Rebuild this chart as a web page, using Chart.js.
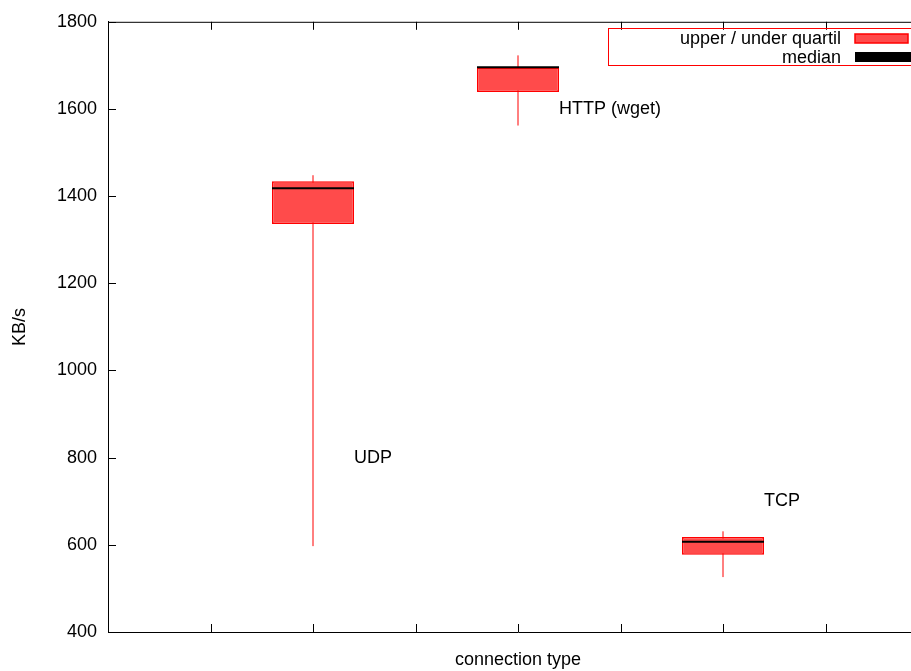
<!DOCTYPE html>
<html>
<head>
<meta charset="utf-8">
<script src="https://cdn.jsdelivr.net/npm/chart.js@4"></script>
<style>
  html, body { margin: 0; padding: 0; background: #fff; overflow: hidden; }
  #wrap { width: 911px; height: 671px; overflow: hidden; }
</style>
</head>
<body>
<div id="wrap"><canvas id="c" width="930" height="671"></canvas></div>
<script>
// ====== data ======
const categories   = ['UDP', 'HTTP (wget)', 'TCP'];
const positions    = [1, 2, 3];
const whiskerLow   = [597, 1562, 526];
const quartileLow  = [1336, 1639, 577];
const medians      = [1418, 1696, 607];
const quartileHigh = [1434, 1695, 618];
const whiskerHigh  = [1448, 1723, 631];
const labelX       = [1.2, 2.2, 3.2];
const labelY       = [800, 1600, 700];
const yTicks       = [400, 600, 800, 1000, 1200, 1400, 1600, 1800];
const xTicks       = [0.5, 1, 1.5, 2, 2.5, 3, 3.5];
const legendItems  = ['upper / under quartil', 'median'];

const FONT = "'Liberation Sans', Arial, Helvetica, sans-serif";
const BOX_FILL = '#ff4b4b';
const RED = '#ff0000';

// ====== datasets ======
const whiskerSets = positions.map((x, i) => ({
    type: 'line',
    order: 3,
    data: [{ x, y: whiskerLow[i] }, { x, y: whiskerHigh[i] }],
    borderColor: RED,
    borderWidth: 1,
    pointRadius: 0,
}));

const medianSets = positions.map((x, i) => ({
    type: 'line',
    order: 1,
    data: [{ x: x - 0.2, y: medians[i] }, { x: x + 0.2, y: medians[i] }],
    borderColor: '#000',
    borderWidth: 2,
    pointRadius: 0,
}));

// tick spacing is 0.5, so 0.8 of it gives boxes 0.4 wide
const boxSet = {
    type: 'bar',
    order: 2,
    data: positions.map((x, i) => ({ x, y: [quartileLow[i], quartileHigh[i]] })),
    backgroundColor: BOX_FILL,
    borderColor: RED,
    borderWidth: 1.5,
    borderSkipped: false,
    categoryPercentage: 0.8,
    barPercentage: 1.0,
};

// ====== frame, inward ticks, labels and legend (gnuplot look) ======
const gnuplotDecor = {
    id: 'gnuplotDecor',
    afterDraw(chart) {
        const { ctx, chartArea: a, scales: { x, y } } = chart;
        ctx.save();
        ctx.strokeStyle = '#000';
        ctx.lineWidth = 1;
        ctx.beginPath();
        // top frame line
        ctx.moveTo(a.left, a.top + 0.5);
        ctx.lineTo(a.right, a.top + 0.5);
        yTicks.forEach(v => {
            const py = Math.round(y.getPixelForValue(v)) + 0.5;
            ctx.moveTo(a.left, py);
            ctx.lineTo(a.left + 8, py);
        });
        xTicks.forEach(v => {
            const px = Math.round(x.getPixelForValue(v)) + 0.5;
            ctx.moveTo(px, a.bottom);
            ctx.lineTo(px, a.bottom - 8);
            ctx.moveTo(px, a.top);
            ctx.lineTo(px, a.top + 8);
        });
        ctx.stroke();

        // category labels
        ctx.fillStyle = '#000';
        ctx.font = '18px ' + FONT;
        ctx.textAlign = 'left';
        ctx.textBaseline = 'middle';
        categories.forEach((t, i) => {
            ctx.fillText(t, x.getPixelForValue(labelX[i]), y.getPixelForValue(labelY[i]));
        });

        // legend
        ctx.strokeStyle = RED;
        ctx.strokeRect(608.5, 28.5, 320, 37);
        ctx.textAlign = 'right';
        ctx.fillStyle = '#000';
        ctx.fillText(legendItems[0], 841, 39);
        ctx.fillText(legendItems[1], 841, 58);
        ctx.fillStyle = BOX_FILL;
        ctx.fillRect(855, 34, 53, 9);
        ctx.strokeStyle = RED;
        ctx.lineWidth = 1.5;
        ctx.strokeRect(855, 34, 53, 9);
        ctx.fillStyle = '#000';
        ctx.fillRect(855, 52, 60, 10);
        ctx.restore();
    },
};

new Chart(document.getElementById('c'), {
    data: { datasets: [...whiskerSets, boxSet, ...medianSets] },
    options: {
        responsive: false,
        animation: false,
        layout: { padding: { top: 20, right: 2, left: 0, bottom: 0 } },
        plugins: { legend: { display: false }, tooltip: { enabled: false } },
        scales: {
            x: {
                type: 'linear',
                min: 0,
                max: 4,
                offset: false,
                grid: { display: false, drawTicks: false, offset: false },
                border: { display: true, color: '#000', width: 1 },
                ticks: { display: false, stepSize: 0.5 },
                title: {
                    display: true,
                    text: 'connection type',
                    color: '#000',
                    font: { family: FONT, size: 18 },
                    padding: { top: 0, bottom: 0 },
                },
                afterFit(s) { s.height = 39; },
            },
            y: {
                min: 400,
                max: 1800,
                afterBuildTicks(s) { s.ticks = yTicks.map(v => ({ value: v })); },
                grid: { display: false, drawTicks: false },
                border: { display: true, color: '#000', width: 1 },
                ticks: {
                    color: '#000',
                    padding: 11,
                    font: { family: FONT, size: 18 },
                    callback: v => String(v),
                },
                title: {
                    display: true,
                    text: 'KB/s',
                    color: '#000',
                    font: { family: FONT, size: 18 },
                    padding: { top: 9, bottom: 0 },
                },
                afterFit(s) { s.width = 108; },
            },
        },
    },
    plugins: [gnuplotDecor],
});
</script>
</body>
</html>
